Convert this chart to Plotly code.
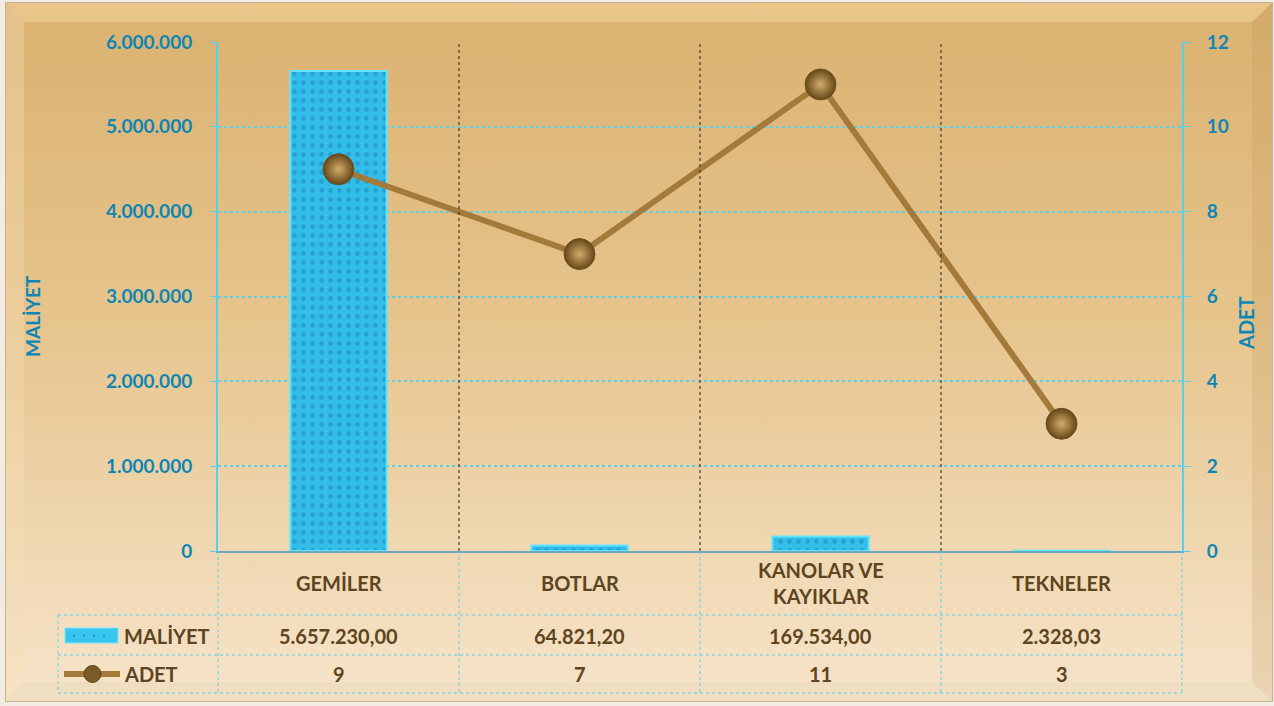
import base64
import plotly.graph_objects as go

# ---- data ----
categories = ["GEMİLER", "BOTLAR", "KANOLAR VE<br>KAYIKLAR", "TEKNELER"]
maliyet = [5657230.00, 64821.20, 169534.00, 2328.03]
adet = [9, 7, 11, 3]
left_ticks = [0, 1000000, 2000000, 3000000, 4000000, 5000000, 6000000]
right_ticks = [0, 2, 4, 6, 8, 10, 12]

def tr_num(v, dec=2):
    s = f"{v:,.{dec}f}"
    return s.replace(",", "#").replace(".", ",").replace("#", ".")

# ---- geometry helpers (plot area in pixels) ----
FW, FH = 1274, 706
L, R, T, B = 218, 1182, 42, 551
W, H = R - L, B - T
def px(x): return (x - L) / W
def py(y): return (B - y) / H

AXC = "#0e86b4"
TXT = "#5e4420"
CY = "#55d0f0"
LINEC = "#a37a3a"
FONT = "Lato"

fig = go.Figure()
fig.add_trace(go.Bar(
    x=list(range(len(categories))), y=maliyet, name="MALİYET", width=0.4,
    marker=dict(color="#2fb9e6", line=dict(color="#62e4fc", width=2),
                pattern=dict(shape=".", fgcolor="#1b86b8", bgcolor="#33bde9", size=9, solidity=0.22)),
    yaxis="y", showlegend=False, hoverinfo="skip"))
fig.add_trace(go.Scatter(
    x=list(range(len(categories))), y=adet, name="ADET", mode="lines+markers",
    line=dict(color=LINEC, width=6),
    marker=dict(size=31, color="#654616", gradient=dict(type="radial", color="#d2ac6c"),
                line=dict(color="#6e5222", width=1)),
    yaxis="y2", showlegend=False, hoverinfo="skip"))

# background svg (gradient + soft bevel frame)
svg = f'''<svg xmlns="http://www.w3.org/2000/svg" width="{FW}" height="{FH}" viewBox="0 0 {FW} {FH}" preserveAspectRatio="none">
<defs><linearGradient id="g" x1="0" y1="0" x2="0" y2="1">
<stop offset="0" stop-color="#dab170"/><stop offset="0.45" stop-color="#e6c48c"/><stop offset="1" stop-color="#f6e4ca"/></linearGradient></defs>
<rect width="{FW}" height="{FH}" fill="#f2ece2"/>
<rect x="5" y="2" width="{FW-6}" height="{FH-6}" fill="#c2b29a"/>
<rect x="6" y="3" width="{FW-8}" height="{FH-8}" fill="url(#g)"/>
<polygon points="6,3 {FW-2},3 {FW-22},22 24,22" fill="#f6d9a0" opacity="0.5"/>
<polygon points="6,3 24,22 24,{FH-24} 6,{FH-5}" fill="#f6e0b8" opacity="0.35"/>
<polygon points="{FW-2},3 {FW-2},{FH-5} {FW-22},{FH-24} {FW-22},22" fill="#b88d50" opacity="0.18"/>
<polygon points="6,{FH-5} 24,{FH-24} {FW-22},{FH-24} {FW-2},{FH-5}" fill="#e9d6b8" opacity="0.45"/>
</svg>'''
src = "data:image/svg+xml;base64," + base64.b64encode(svg.encode()).decode()

shapes = []
def seg(x0, y0, x1, y1, color=CY, dash="dot", width=1, xref="paper"):
    shapes.append(dict(type="line", xref=xref, yref="paper", x0=x0, y0=y0, x1=x1, y1=y1,
                       line=dict(color=color, width=width, dash=dash)))

# category separators in plot area
for k in range(len(categories) - 1):
    seg(k + 0.5, 0, k + 0.5, 1, color="#4a3b28", dash="dot", width=1.2, xref="x")
# data table grid
for yy in (615, 655, 693):
    seg(px(58), py(yy), px(1182), py(yy))
seg(px(58), py(615), px(58), py(693))
for xx in (218, 459, 700, 941, 1182):
    seg(px(xx), py(551), px(xx), py(693))
# legend keys
shapes.append(dict(type="rect", xref="paper", yref="paper", x0=px(65), x1=px(118), y0=py(643), y1=py(628),
                   fillcolor="#38c6ef", line=dict(color="#7fe6fb", width=1)))
for dx in (74, 84, 94, 104):
    shapes.append(dict(type="circle", xref="paper", yref="paper", x0=px(dx - 1), x1=px(dx + 1),
                       y0=py(636.5), y1=py(634.5), fillcolor="#1b86b8", line=dict(width=0)))
seg(px(64), py(674), px(120), py(674), color=LINEC, dash="solid", width=6)
shapes.append(dict(type="circle", xref="paper", yref="paper", x0=px(84), x1=px(101), y0=py(682.5), y1=py(665.5),
                   fillcolor="#7a5a25", line=dict(color="#5e4318", width=1)))

bold = dict(family=FONT, weight="bold")
ann = []
for i, c in enumerate(categories):
    ann.append(dict(x=i, xref="x", y=py(583), yref="paper", text=c, showarrow=False,
                    font=dict(size=20, color=TXT, **bold), yanchor="middle"))
    ann.append(dict(x=i, xref="x", y=py(636), yref="paper", text=tr_num(maliyet[i]), showarrow=False,
                    font=dict(size=20, color=TXT, **bold), yanchor="middle"))
    ann.append(dict(x=i, xref="x", y=py(674), yref="paper", text=str(adet[i]), showarrow=False,
                    font=dict(size=20, color=TXT, **bold), yanchor="middle"))
ann.append(dict(x=px(122), xref="paper", y=py(636), yref="paper", text="MALİYET", showarrow=False,
                xanchor="left", yanchor="middle", font=dict(size=20, color=TXT, **bold)))
ann.append(dict(x=px(122), xref="paper", y=py(674), yref="paper", text="ADET", showarrow=False,
                xanchor="left", yanchor="middle", font=dict(size=20, color=TXT, **bold)))
ann.append(dict(x=px(32), xref="paper", y=py(316), yref="paper", text="MALİYET", showarrow=False,
                xanchor="center", yanchor="middle", textangle=-90, font=dict(size=19, color=AXC, **bold)))
ann.append(dict(x=px(1246), xref="paper", y=py(323), yref="paper", text="ADET", showarrow=False,
                xanchor="center", yanchor="middle", textangle=-90, font=dict(size=20, color=AXC, **bold)))

tickfont = dict(size=19, color=AXC, **bold)
fig.update_layout(
    width=FW, height=FH, margin=dict(l=L, r=FW - R, t=T, b=FH - B, pad=0),
    paper_bgcolor="#e6c48c", plot_bgcolor="rgba(0,0,0,0)",
    separators=",.",
    images=[dict(source=src, xref="paper", yref="paper", x=px(0), y=py(0),
                 sizex=FW / W, sizey=FH / H, sizing="stretch", xanchor="left", yanchor="top", layer="below")],
    xaxis=dict(range=[-0.5, 3.5], showticklabels=False, showgrid=False, zeroline=False,
               showline=True, linecolor="#6aa9bd", linewidth=2, ticks=""),
    yaxis=dict(range=[0, 6000000], tickvals=left_ticks, tickformat=",d", tickfont=tickfont,
               showgrid=True, gridcolor=CY, griddash="dot", gridwidth=1.5, zeroline=False,
               showline=True, linecolor=CY, linewidth=2, ticks="outside", ticklen=6, tickcolor=CY,
               ticklabelstandoff=14),
    yaxis2=dict(range=[0, 12], tickvals=right_ticks, overlaying="y", side="right", tickfont=tickfont,
                showgrid=False, zeroline=False, showline=True, linecolor=CY, linewidth=2,
                ticks="outside", ticklen=7, tickcolor=CY, ticklabelstandoff=12),
    shapes=shapes, annotations=ann, showlegend=False,
)
fig.write_html("out.html", config={"displayModeBar": False},
               post_script="document.body.style.margin='0';document.body.style.overflow='hidden';")
